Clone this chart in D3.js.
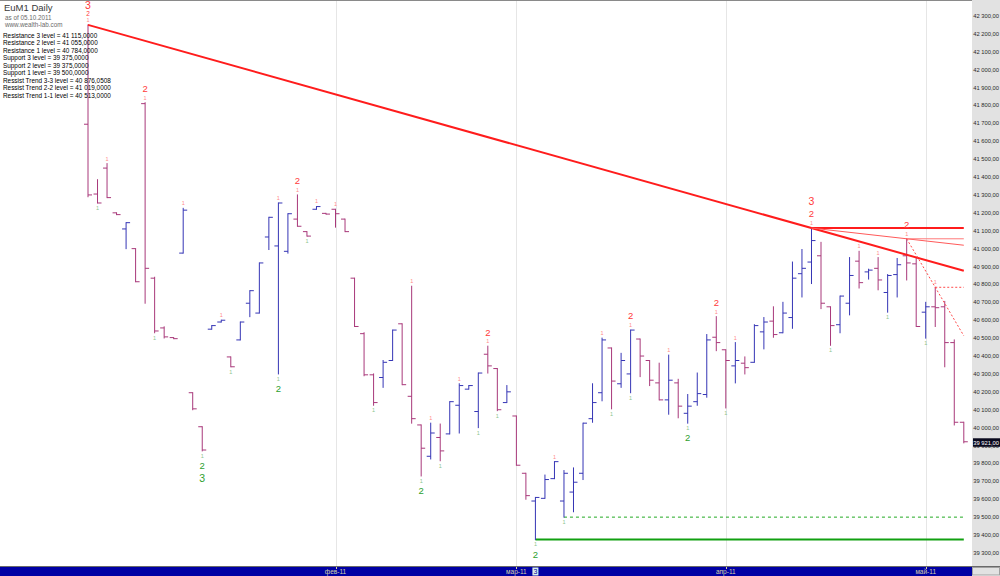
<!DOCTYPE html>
<html><head><meta charset="utf-8">
<script src="https://cdn.jsdelivr.net/npm/d3@7"></script>
<style>body{margin:0;background:#fff}svg{display:block}</style>
</head><body><svg id="c" width="1000" height="576"></svg>
<script>
// ---- data (EuM1 daily OHLC, bar index 0..92) ----
const opens  = [41695,41305,41450,41200,41110,41000,41810,40835,40557,40503,40975,40195,40005,40550,40590,40395,40490,40695,40640,41065,41015,40985,41165,41095,41220,41197,41220,41165,40835,40525,40295,40280,40375,40580,40175,40015,39840,39945,39965,40125,40215,40090,40410,40330,40140,40065,39745,39590,39605,39715,39590,39640,39745,40050,40195,40445,40245,40300,40495,40375,40250,40155,40250,40080,40145,40185,40505,40435,40345,40360,40365,40535,40595,40530,40615,40860,40925,40960,40675,40575,40695,40930,40870,40890,40755,40855,40960,40915,40645,40675,40675,40475,40030];
const highs  = [42250,41385,41475,41200,41145,41000,41815,40840,40563,40503,41225,40195,40005,40570,40600,40395,40590,40765,40920,41175,41255,41195,41300,41095,41235,41197,41220,41165,40835,40530,40300,40375,40545,40580,40790,40015,40025,40020,40145,40245,40235,40305,40455,40330,40235,40065,39745,39610,39735,39810,39760,39775,40025,40245,40500,40445,40415,40545,40495,40375,40360,40405,40270,40185,40305,40520,40620,40435,40475,40395,40575,40615,40675,40700,40925,40995,41115,41035,40675,40735,40950,40985,40885,40950,40855,40945,41055,40950,40700,40784,40705,40490,40030];
const lows   = [41290,41255,41285,41190,41000,40815,40695,40530,40501,40497,40975,40100,39870,40550,40590,40340,40490,40620,40640,40995,40300,40975,41125,41070,41220,41193,41120,41095,40565,40290,40125,40225,40375,40240,40025,39730,39825,39815,39965,39970,40215,40000,40305,40095,40140,39790,39600,39375,39605,39715,39500,39530,39710,40030,40150,40105,40225,40195,40285,40235,40155,40075,40055,40025,40125,40170,40430,40110,40250,40300,40365,40440,40505,40530,40555,40730,40805,40665,40460,40530,40630,40780,40830,40770,40645,40730,40825,40565,40500,40565,40340,40015,39915];
const closes = [41300,41255,41285,41190,41145,40815,40890,40540,40507,40497,41215,40105,39875,40570,40600,40340,40590,40765,40920,41175,41255,41195,41125,41070,41235,41193,41195,41095,40565,40295,40140,40365,40545,40240,40050,39885,39970,39870,40145,40235,40235,40305,40345,40100,40200,39790,39620,39610,39710,39810,39745,39695,40025,40140,40490,40260,40375,40545,40400,40265,40155,40265,40120,40120,40190,40490,40475,40375,40375,40335,40570,40590,40520,40640,40835,40890,41045,40695,40570,40735,40850,40810,40880,40825,40850,40910,40920,40565,40675,40670,40475,40030,39921];

const monthLabels = ["фев-11","мар-11","апр-11","май-11"];
const monthBarIndex = [26,45,67,88];

const yTickValues = [39300,39400,39500,39600,39700,39800,39900,40000,40100,40200,40300,40400,40500,40600,40700,40800,40900,41000,41100,41200,41300,41400,41500,41600,41700,41800,41900,42000,42100,42200,42300];
const lastClose = 39921;

// swing markers: [bar index, depth]
const swingHighMarks = [[0,3],[2,1],[6,2],[10,1],[14,1],[20,1],[22,2],[24,1],[26,1],[34,1],[36,1],[39,1],[42,2],[49,1],[54,1],[57,2],[61,1],[66,2],[68,1],[76,3],[81,1],[83,1],[86,2],[89,1]];
const swingLowMarks  = [[1,1],[7,1],[12,3],[15,1],[20,2],[23,1],[30,1],[35,2],[37,1],[41,1],[43,1],[47,2],[50,1],[55,1],[57,1],[63,2],[67,1],[78,1],[84,1],[88,1]];

const resistance3 = 41115, resistance2 = 41055, resistance1 = 40784;
const support3 = 39375, support2 = 39375, support1 = 39500;
const trend33 = 40876.0508, trend22 = 41019, trend11 = 40513;

const titleText = "EuM1 Daily";
const subText = ["as of 05.10.2011","www.wealth-lab.com"];
const infoLines = ["Resistance 3 level = 41 115,0000","Resistance 2 level = 41 055,0000","Resistance 1 level = 40 784,0000","Support 3 level = 39 375,0000","Support 2 level = 39 375,0000","Support 1 level = 39 500,0000","Ressist Trend 3-3 level = 40 876,0508","Ressist Trend 2-2 level = 41 019,0000","Ressist Trend 1-1 level = 40 513,0000"];

// ---- layout ----
const W = 1000, H = 576, plotBottom = 566, axisLeft = 972;
const svg = d3.select("#c");
const font = "'Liberation Sans', Arial, sans-serif";
const n = opens.length;
const x = d3.scaleLinear().domain([0, n - 1]).range([88, 963.8]);
const y = d3.scaleLinear().domain([39227, 42389]).range([plotBottom, 0]);
const bars = opens.map((o, i) => ({i, o, h: highs[i], l: lows[i], c: closes[i]}));

// month grid
svg.append("g").selectAll("line").data(monthBarIndex).join("line")
  .attr("x1", d => Math.round(x(d)) + 0.5).attr("x2", d => Math.round(x(d)) + 0.5)
  .attr("y1", 0).attr("y2", plotBottom).attr("stroke", "#e6e6e6").attr("stroke-width", 1);

// top border
svg.append("line").attr("x1", 0).attr("x2", W).attr("y1", 0.5).attr("y2", 0.5).attr("stroke", "#8a8a8a");

// support lines
const gl = svg.append("g");
gl.append("line").attr("x1", x(47)).attr("x2", x(n - 1)).attr("y1", y(support2)).attr("y2", y(support3))
  .attr("stroke", "#11a011").attr("stroke-width", 2);
gl.append("line").attr("x1", x(50)).attr("x2", x(n - 1)).attr("y1", y(support1)).attr("y2", y(support1))
  .attr("stroke", "#22aa22").attr("stroke-width", 1).attr("stroke-dasharray", "3,3");

// bars
const upCol = "#3535b5", dnCol = "#a8387a";
const bg = svg.append("g").attr("stroke-width", 1);
const bsel = bg.selectAll("g").data(bars).join("g").attr("stroke", d => d.c >= d.o ? upCol : dnCol);
bsel.append("line").attr("x1", d => x(d.i)).attr("x2", d => x(d.i)).attr("y1", d => y(d.h) - 0.5).attr("y2", d => y(d.l) + 0.5);
bsel.append("line").attr("x1", d => x(d.i) - 4).attr("x2", d => x(d.i)).attr("y1", d => y(d.o)).attr("y2", d => y(d.o));
bsel.append("line").attr("x1", d => x(d.i)).attr("x2", d => x(d.i) + 4).attr("y1", d => y(d.c)).attr("y2", d => y(d.c));

// resistance / trend lines
const rl = svg.append("g").attr("fill", "none");
rl.append("line").attr("x1", x(0)).attr("y1", y(highs[0])).attr("x2", x(n - 1)).attr("y2", y(trend33))
  .attr("stroke", "#ff1c1c").attr("stroke-width", 2);
rl.append("line").attr("x1", x(76)).attr("y1", y(resistance3)).attr("x2", x(n - 1)).attr("y2", y(resistance3))
  .attr("stroke", "#ff1c1c").attr("stroke-width", 2);
rl.append("line").attr("x1", x(76)).attr("y1", y(resistance3)).attr("x2", x(n - 1)).attr("y2", y(trend22))
  .attr("stroke", "#ff5a5a").attr("stroke-width", 1);
rl.append("line").attr("x1", x(86)).attr("y1", y(resistance2)).attr("x2", x(n - 1)).attr("y2", y(resistance2))
  .attr("stroke", "#ff7a7a").attr("stroke-width", 1);
rl.append("line").attr("x1", x(86)).attr("y1", y(resistance2)).attr("x2", x(n - 1)).attr("y2", y(trend11))
  .attr("stroke", "#ff4a4a").attr("stroke-width", 1).attr("stroke-dasharray", "2,2");
rl.append("line").attr("x1", x(89)).attr("y1", y(resistance1)).attr("x2", x(n - 1)).attr("y2", y(resistance1))
  .attr("stroke", "#ff4a4a").attr("stroke-width", 1).attr("stroke-dasharray", "2,2");

// swing labels
const offHi = [5, 14, 27], offLo = [5, 15, 27];
const lab = svg.append("g").attr("font-family", font).attr("text-anchor", "middle");
swingHighMarks.forEach(([i, depth]) => {
  const yh = y(highs[i]);
  const squeezed = yh - offHi[depth - 1] < 6;
  const pos = squeezed ? [yh - 4.5, yh - 11.5, 5.5] : offHi.map(o => yh - o);
  for (let d = 1; d <= depth; d++) {
    const fs = d === 1 ? 5.5 : (d === 2 ? (squeezed ? 6.5 : 9.5) : 10.5);
    lab.append("text").attr("x", x(i)).attr("y", pos[d - 1]).attr("dy", "0.35em")
      .attr("font-size", fs).attr("fill", d === 1 ? "#ff8a8a" : "#ff3a3a").text(d);
  }
});
swingLowMarks.forEach(([i, depth]) => {
  const yl = y(lows[i]);
  for (let d = 1; d <= depth; d++) {
    lab.append("text").attr("x", x(i)).attr("y", yl + offLo[d - 1]).attr("dy", "0.35em")
      .attr("font-size", d === 1 ? 5.5 : (d === 2 ? 9.5 : 10.5))
      .attr("fill", d === 1 ? "#8cc48c" : "#2ea02e").text(d);
  }
});

// title & info text
const tg = svg.append("g").attr("font-family", font);
tg.append("text").attr("x", 4).attr("y", 11).attr("font-size", 9.5).attr("fill", "#3a3a3a").text(titleText);
tg.selectAll("text.sub").data(subText).join("text").attr("class", "sub")
  .attr("x", 5).attr("y", (d, i) => 20 + i * 6.8).attr("font-size", 6.3).attr("fill", "#6a6a6a").text(d => d);
tg.selectAll("text.info").data(infoLines).join("text").attr("class", "info")
  .attr("x", 3).attr("y", (d, i) => 37.5 + i * 7.5).attr("font-size", 6.4).attr("fill", "#000").text(d => d);

// right axis panel
svg.append("rect").attr("x", axisLeft).attr("y", 0).attr("width", W - axisLeft).attr("height", plotBottom).attr("fill", "#e2e2e2");
const fmt = v => { const s = String(v); return s.slice(0, -3) + " " + s.slice(-3) + ",00"; };
const ya = svg.append("g").attr("font-family", font).attr("font-size", 5.8).attr("fill", "#2a2a2a");
ya.selectAll("text").data(yTickValues).join("text")
  .attr("x", axisLeft + 1.2).attr("y", d => y(d)).attr("dy", "0.35em").text(d => fmt(d));
// last value highlight (partly covers the 39 900 tick, as in the reference)
svg.append("rect").attr("x", axisLeft + 1).attr("y", y(lastClose) - 3.5).attr("width", W - axisLeft - 1).attr("height", 8.5).attr("fill", "#0a0a1e");
svg.append("text").attr("x", axisLeft + 1.2).attr("y", y(lastClose) + 1).attr("dy", "0.35em")
  .attr("font-family", font).attr("font-size", 5.8).attr("fill", "#ffffff").text(fmt(lastClose));

// bottom axis band
svg.append("line").attr("x1", 0).attr("x2", W).attr("y1", plotBottom + 0.5).attr("y2", plotBottom + 0.5).attr("stroke", "#6a6a6a");
svg.append("rect").attr("x", 0).attr("y", plotBottom + 1).attr("width", axisLeft).attr("height", H - plotBottom - 1).attr("fill", "#0000a4");
svg.append("rect").attr("x", axisLeft + 0.5).attr("y", plotBottom + 1.5).attr("width", W - axisLeft - 1).attr("height", H - plotBottom - 2.5)
  .attr("fill", "#e2e2e2").attr("stroke", "#a0a0a0");
const xa = svg.append("g").attr("font-family", font).attr("font-size", 6.5);
xa.selectAll("text").data(monthLabels).join("text")
  .attr("x", (d, i) => x(monthBarIndex[i])).attr("y", H - 2.5).attr("text-anchor", "middle").attr("fill", "#d6d2a8").text(d => d);
xa.selectAll("line").data(monthBarIndex).join("line")
  .attr("x1", d => Math.round(x(d)) + 0.5).attr("x2", d => Math.round(x(d)) + 0.5).attr("y1", plotBottom + 1).attr("y2", plotBottom + 3)
  .attr("stroke", "#d6d2a8");
// cursor marker box
svg.append("rect").attr("x", x(47) - 3).attr("y", plotBottom + 1.5).attr("width", 6).attr("height", 8).attr("fill", "#d6eeea");
svg.append("text").attr("x", x(47)).attr("y", H - 2.5).attr("text-anchor", "middle").attr("font-family", font)
  .attr("font-size", 7).attr("fill", "#0000a4").text("3");
</script></body></html>
